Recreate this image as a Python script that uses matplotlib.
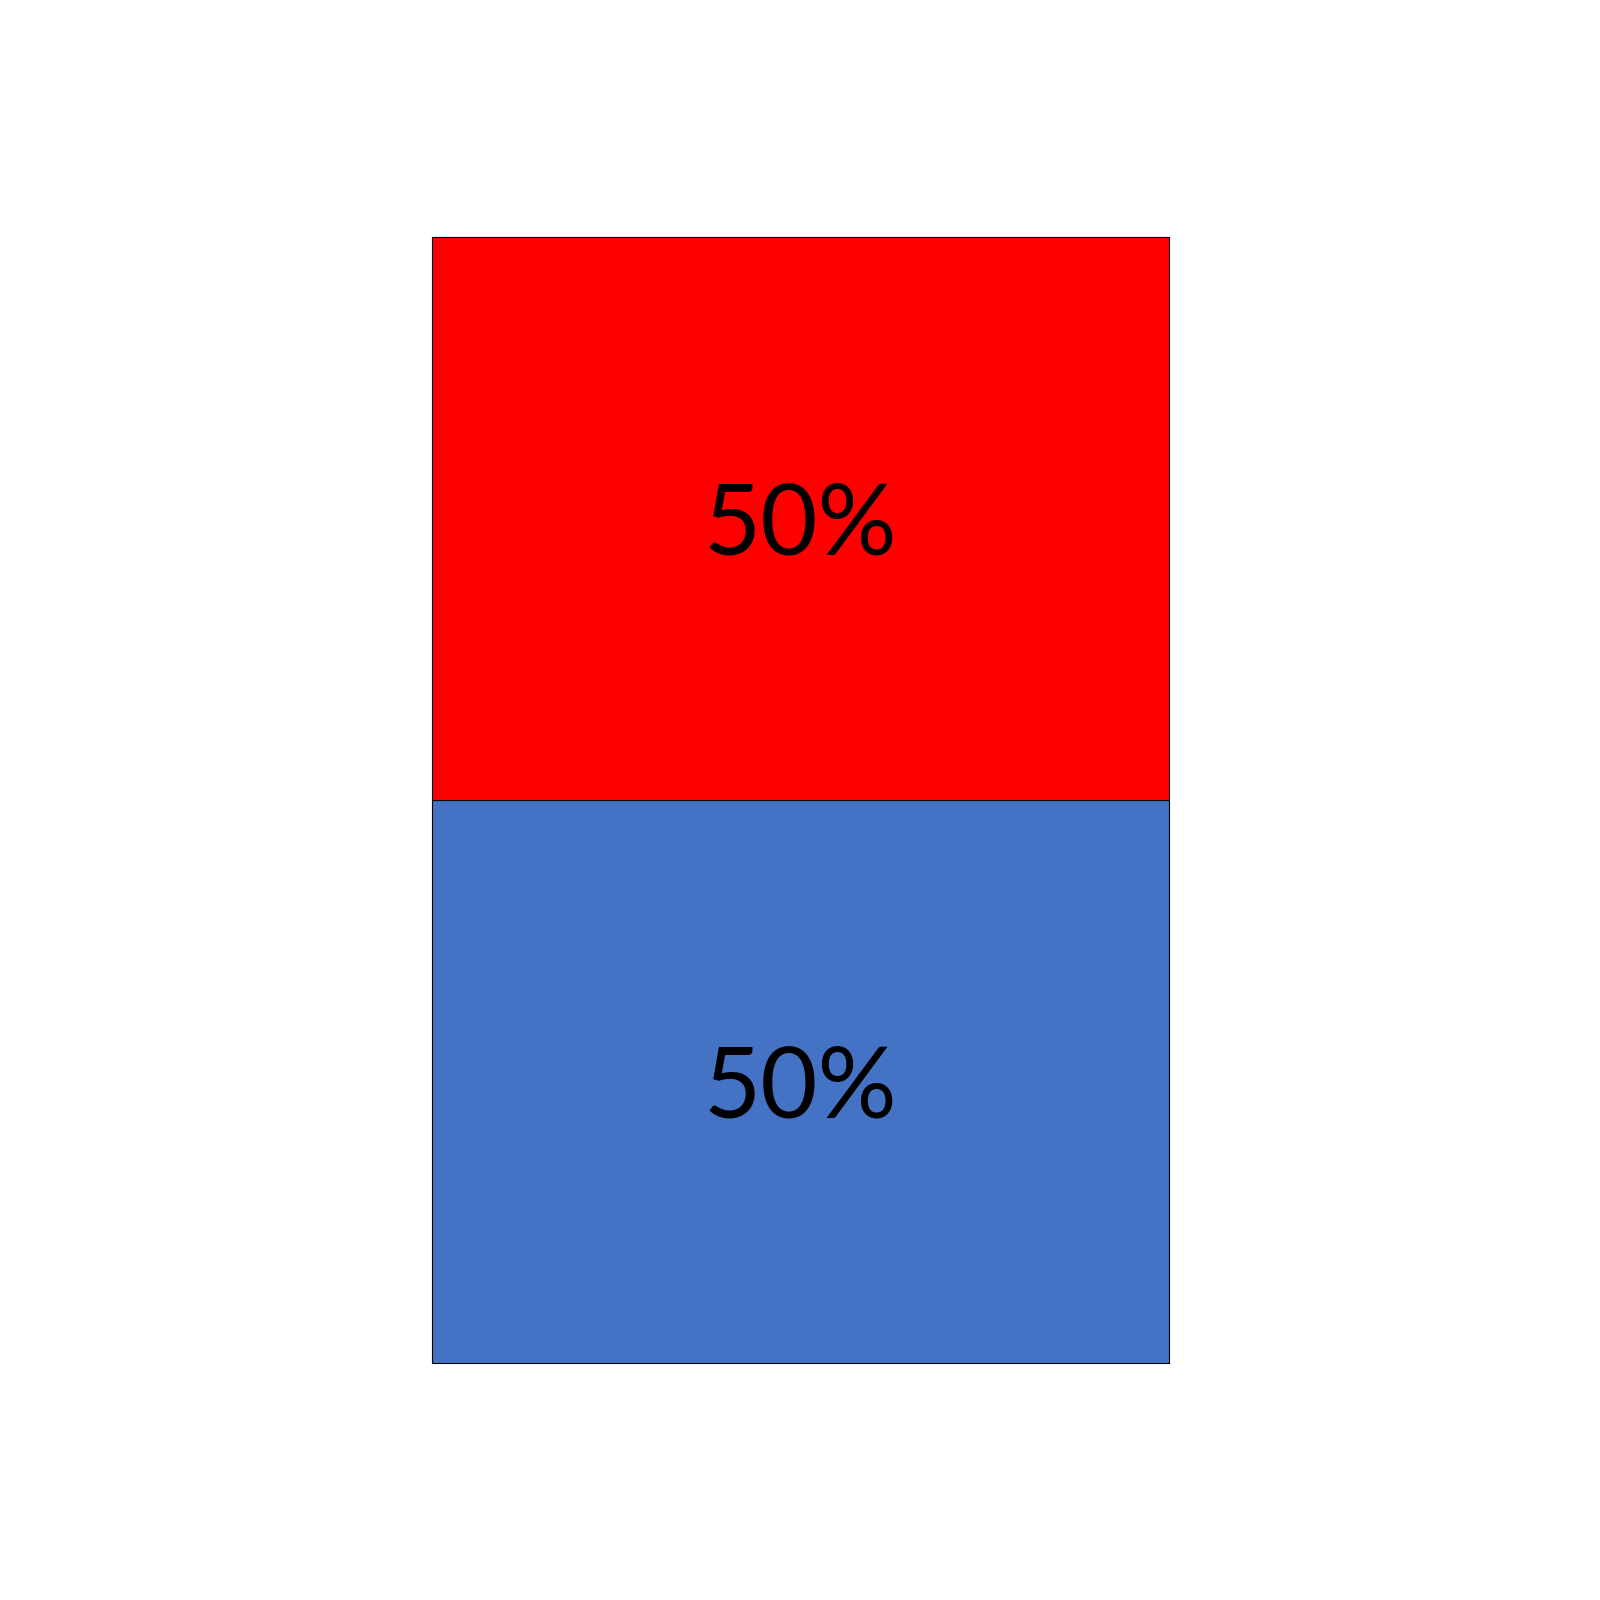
import matplotlib
matplotlib.use("Agg")
import matplotlib.pyplot as plt

# data
categories = ["A"]
bottom_share = [50]
top_share = [50]
labels_bottom = ["50%"]
labels_top = ["50%"]

fig = plt.figure(figsize=(16, 16), dpi=100)
ax = fig.add_axes([0.2698, 0.1479, 0.4611, 0.7041])

x = range(len(categories))

bars_bottom = ax.bar(
    x, bottom_share, width=1.0,
    color="#4472C4", edgecolor="black", linewidth=0.8, clip_on=False
)
bars_top = ax.bar(
    x, top_share, width=1.0, bottom=bottom_share,
    color="#FF0000", edgecolor="black", linewidth=0.8, clip_on=False
)


def put_label(bar, lab):
    # baseline sits a little below the middle of the segment
    ax.annotate(
        lab,
        (bar.get_x() + bar.get_width() / 2, bar.get_y() + bar.get_height() / 2),
        xytext=(0, -26), textcoords="offset points",
        ha="center", va="baseline",
        fontsize=71, family="Lato", color="black"
    )


for bar, lab in zip(bars_bottom, labels_bottom):
    put_label(bar, lab)

for bar, lab in zip(bars_top, labels_top):
    put_label(bar, lab)

ax.set_xlim(-0.5, 0.5)
ax.set_ylim(0, 100)
ax.axis("off")

fig.savefig("out.png", dpi=100, facecolor="white")
